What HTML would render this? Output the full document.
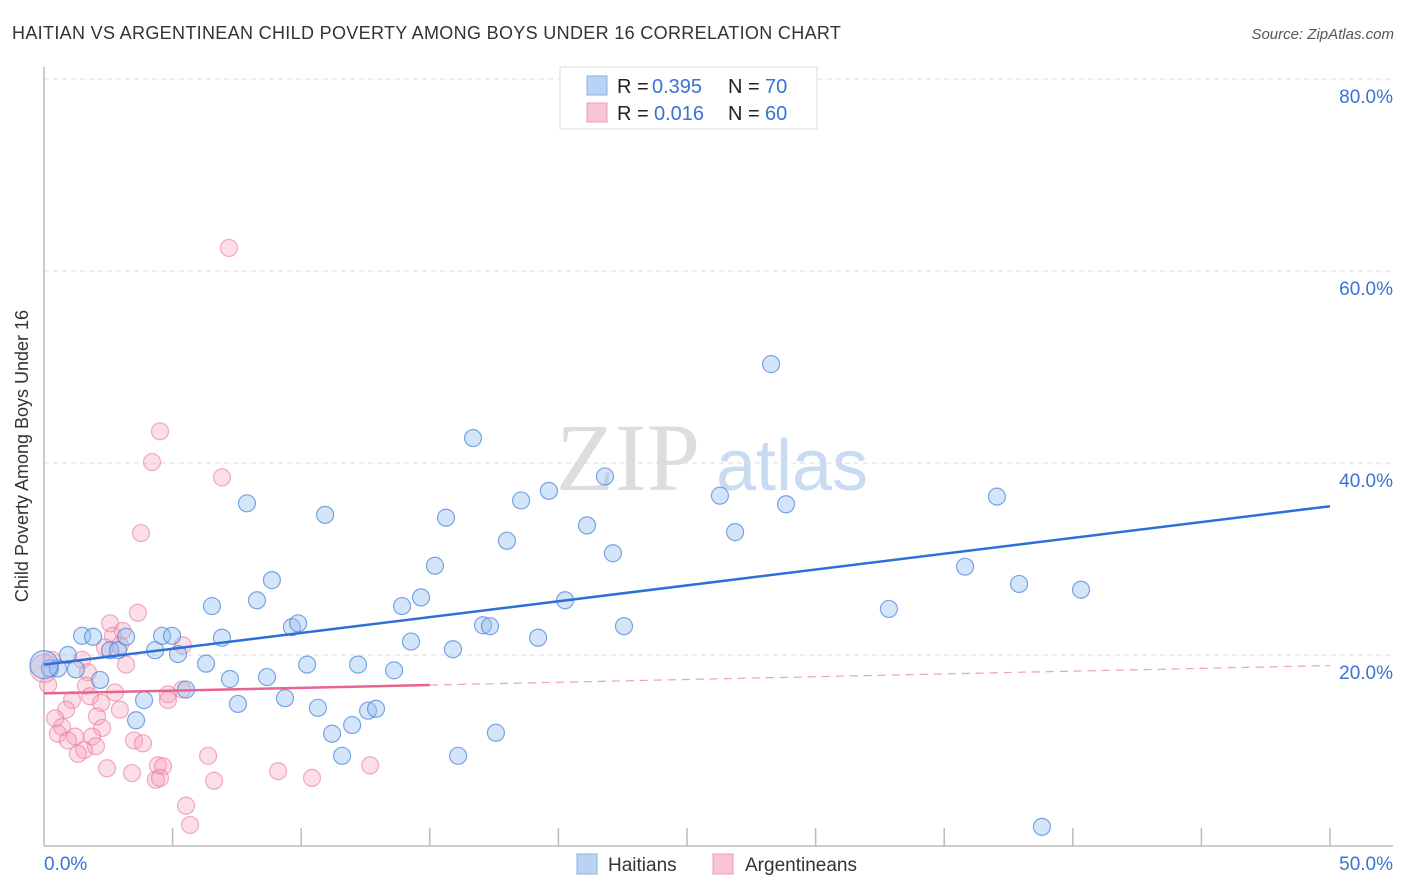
<!DOCTYPE html>
<html><head><meta charset="utf-8"><style>
body{margin:0;background:#fff;font-family:"Liberation Sans",sans-serif}
#c{position:relative;width:1406px;height:892px;overflow:hidden}
</style></head><body>
<div id="c">
<svg id="s" width="1406" height="892" xmlns="http://www.w3.org/2000/svg">
<text x="12" y="39" font-size="18" fill="#333" letter-spacing="0.33">HAITIAN VS ARGENTINEAN CHILD POVERTY AMONG BOYS UNDER 16 CORRELATION CHART</text>
<text x="1394" y="39" font-size="15" fill="#555" font-style="italic" text-anchor="end">Source: ZipAtlas.com</text>
<g><text x="556" y="490" font-family="Liberation Serif" font-size="96" fill="#ddd">ZIP</text><text x="716" y="490" font-size="72" fill="#c8dbf2">atlas</text></g>
<g id="grid"></g>
<g id="axes"></g>
<g id="pts"></g>
<g id="trend"></g>
<text x="28" y="456" font-size="18" fill="#333" text-anchor="middle" transform="rotate(-90 28 456)">Child Poverty Among Boys Under 16</text>
<g>
<rect x="560" y="67" width="257" height="62" fill="#fff" stroke="#ddd"/>
<rect x="587" y="76" width="20" height="19" fill="#b9d3f3" stroke="#8ab2e6"/>
<rect x="587" y="103" width="20" height="19" fill="#f9c5d4" stroke="#ee9db5"/>
<text x="617" y="93" font-size="20" fill="#222">R =</text><text x="652" y="93" font-size="20" fill="#3a72d6">0.395</text>
<text x="728" y="93" font-size="20" fill="#222">N =</text><text x="765" y="93" font-size="20" fill="#3a72d6">70</text>
<text x="617" y="120" font-size="20" fill="#222">R =</text><text x="654" y="120" font-size="20" fill="#3a72d6">0.016</text>
<text x="728" y="120" font-size="20" fill="#222">N =</text><text x="765" y="120" font-size="20" fill="#3a72d6">60</text>
</g>
<g>
<rect x="577" y="854" width="20" height="20" fill="#b9d3f3" stroke="#8ab2e6"/>
<text x="608" y="871" font-size="19" fill="#333">Haitians</text>
<rect x="713" y="854" width="20" height="20" fill="#f9c5d4" stroke="#ee9db5"/>
<text x="745" y="871" font-size="19" fill="#333">Argentineans</text>
</g>
</svg></div>
<script>
const yTicks=[20,40,60,80];
const xTickLabels=["0.0%","50.0%"];
const blueX=[0.23,0.54,0.93,1.24,1.48,1.91,2.18,2.57,2.88,3.19,3.58,3.89,4.32,4.59,4.98,5.21,5.52,6.30,6.53,6.92,7.23,7.54,7.89,8.28,8.67,8.86,9.37,9.64,9.88,10.23,10.65,10.93,11.20,11.59,11.98,12.21,12.60,12.91,13.61,13.92,14.27,14.66,15.20,15.63,15.90,16.10,16.68,17.07,17.34,17.57,18.00,18.55,19.21,19.63,20.26,21.11,21.81,22.12,22.55,26.28,26.87,28.27,28.85,32.85,35.81,37.05,37.91,38.80,40.32,0];
const blueY=[18.6,18.6,20.0,18.5,22.0,21.9,17.4,20.5,20.5,21.9,13.2,15.3,20.5,22.0,22.0,20.1,16.4,19.1,25.1,21.8,17.5,14.9,35.8,25.7,17.7,27.8,15.5,22.9,23.3,19.0,14.5,34.6,11.8,9.5,12.7,19.0,14.2,14.4,18.4,25.1,21.4,26.0,29.3,34.3,20.6,9.5,42.6,23.1,23.0,11.9,31.9,36.1,21.8,37.1,25.7,33.5,38.6,30.6,23.0,36.6,32.8,50.3,35.7,24.8,29.2,36.5,27.4,2.1,26.8,19.0];
const pinkX=[7.19,4.51,4.20,6.92,3.77,3.65,2.57,3.06,1.48,2.68,2.95,2.37,5.40,3.19,0.31,1.71,0.16,1.63,2.76,1.79,1.09,2.22,4.82,4.82,5.37,2.95,0.86,2.06,0.43,0.70,2.26,1.21,1.87,0.54,0.93,2.02,1.56,1.32,3.50,3.85,2.45,3.42,4.43,4.63,4.35,4.51,6.38,6.61,9.10,10.42,12.68,5.52,5.68,0];
const pinkY=[62.4,43.3,40.1,38.5,32.7,24.4,23.3,22.5,19.5,22.0,21.0,20.8,21.0,19.0,19.5,18.2,16.9,16.8,16.1,15.7,15.3,15.0,15.9,15.3,16.4,14.3,14.3,13.6,13.4,12.5,12.4,11.5,11.5,11.8,11.1,10.5,10.1,9.7,11.1,10.8,8.2,7.7,8.5,8.4,7.0,7.2,9.5,6.9,7.9,7.2,8.5,4.3,2.3,18.6];
const blueTrend=[19.0,35.5];
const pinkTrend=[16.0,18.9];
const X=v=>44+v*25.72, Y=v=>847-v*9.6;
const NS="http://www.w3.org/2000/svg";
function mk(p,t,a){const e=document.createElementNS(NS,t);for(const k in a)e.setAttribute(k,a[k]);p.appendChild(e);return e;}
const g=document.getElementById('grid'),ax=document.getElementById('axes'),pts=document.getElementById('pts'),tr=document.getElementById('trend'),s=document.getElementById('s');
yTicks.forEach(t=>{const l=mk(g,'line',{x1:44,x2:1393,y1:Y(t),y2:Y(t),stroke:'#ddd','stroke-dasharray':'5,4'});


const tx=mk(s,'text',{x:1393,y:Y(t)+24,'font-size':19,fill:'#3a72d6','text-anchor':'end'});tx.textContent=t.toFixed(1)+'%';

});
mk(ax,'line',{x1:44,x2:44,y1:67,y2:846,stroke:'#bbb','stroke-width':1.5});
mk(ax,'line',{x1:44,x2:1393,y1:846,y2:846,stroke:'#bbb','stroke-width':1.5});
for(let i=1;i<=10;i++){const l=mk(ax,'line',{x1:X(i*5),x2:X(i*5),y1:828,y2:846,stroke:'#bbb','stroke-width':1.5});

}
[[0,'start'],[50,'end']].forEach((d,i)=>{const tx=mk(s,'text',{x:d[0]?1393:44,y:870,'font-size':19,fill:'#3a72d6','text-anchor':d[1]});tx.textContent=xTickLabels[i];

});
pinkX.forEach((x,i)=>{const c=mk(pts,'circle',{cx:X(x),cy:Y(pinkY[i]),r:x===0?14:8.5,fill:'rgba(246,160,186,0.35)',stroke:'rgba(232,120,155,0.6)','stroke-width':1.2});

});
blueX.forEach((x,i)=>{const c=mk(pts,'circle',{cx:X(x),cy:Y(blueY[i]),r:x===0?14:8.5,fill:'rgba(150,190,240,0.4)',stroke:'rgba(70,130,220,0.7)','stroke-width':1.2});

});
let l=mk(tr,'line',{x1:X(0),y1:Y(blueTrend[0]),x2:X(50),y2:Y(blueTrend[1]),stroke:'#2d6fd6','stroke-width':2.5});


const pAt=x=>pinkTrend[0]+(pinkTrend[1]-pinkTrend[0])*x/50;
l=mk(tr,'line',{x1:X(0),y1:Y(pAt(0)),x2:X(15),y2:Y(pAt(15)),stroke:'#e8648e','stroke-width':2.5});


l=mk(tr,'line',{x1:X(15),y1:Y(pAt(15)),x2:X(50),y2:Y(pAt(50)),stroke:'#eea0b8','stroke-width':1.2,'stroke-dasharray':'8,6'});


</script>
</body></html>
